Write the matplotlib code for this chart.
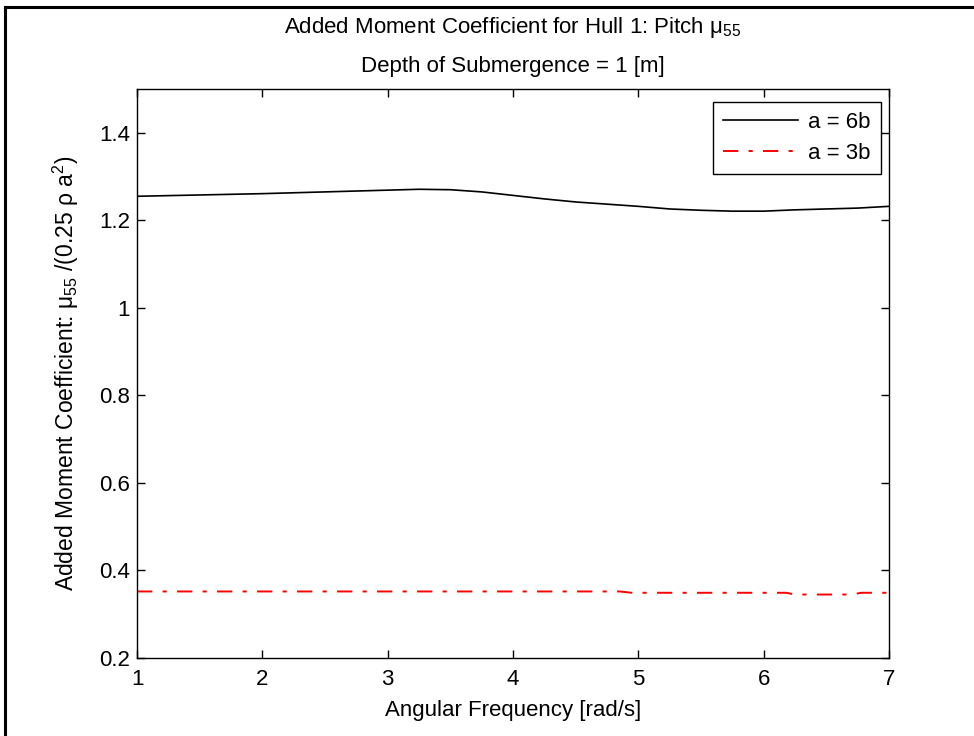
import matplotlib
matplotlib.use('Agg')
import matplotlib.pyplot as plt
from matplotlib.lines import Line2D

plt.rcParams['font.family'] = ['Liberation Sans', 'DejaVu Sans']
plt.rcParams['mathtext.fontset'] = 'custom'
plt.rcParams['mathtext.rm'] = 'Liberation Sans'
plt.rcParams['mathtext.it'] = 'Liberation Sans:italic'
plt.rcParams['mathtext.default'] = 'regular'
plt.rcParams['lines.scale_dashes'] = False

# frecuencia angular [rad/s] y coeficientes de momento agregado
w_6b = [1.0, 1.5, 2.0, 2.5, 3.0, 3.25, 3.5, 3.75, 4.0, 4.25, 4.5, 4.75,
        5.0, 5.25, 5.5, 5.75, 6.0, 6.25, 6.5, 6.75, 7.0]
mu_6b = [1.255, 1.258, 1.261, 1.265, 1.269, 1.271, 1.270, 1.265, 1.257, 1.249,
         1.242, 1.237, 1.232, 1.226, 1.223, 1.221, 1.221, 1.224, 1.226, 1.228, 1.232]

w_3b = [1.0, 2.0, 3.0, 4.0, 4.85, 4.95, 6.0, 6.18, 6.25, 6.7, 6.78, 7.0]
mu_3b = [0.352, 0.352, 0.352, 0.352, 0.352, 0.349, 0.349, 0.349, 0.345, 0.345, 0.349, 0.349]

labels = ['a = 6b', 'a = 3b']
xticks = [1, 2, 3, 4, 5, 6, 7]
yticks = [0.2, 0.4, 0.6, 0.8, 1.0, 1.2, 1.4]
yticklabels = ['0.2', '0.4', '0.6', '0.8', '1', '1.2', '1.4']

fig = plt.figure(figsize=(9.74, 7.36), dpi=100)
ax = fig.add_axes([0.1407, 0.106, 0.772, 0.773])

ax.plot(w_6b, mu_6b, color='black', lw=1.2, label=labels[0])
ax.plot(w_3b, mu_3b, color='red', lw=1.4, dashes=(11, 7.4, 3, 7.4), label=labels[1])

ax.set_xlim(1, 7)
ax.set_ylim(0.2, 1.5)
ax.set_xticks(xticks)
ax.set_xticklabels([str(t) for t in xticks])
ax.set_yticks(yticks)
ax.set_yticklabels(yticklabels)
ax.tick_params(direction='in', length=5.5, width=1, top=True, right=True,
               labelsize=16, colors='black')
ax.tick_params(axis='x', pad=8)
ax.tick_params(axis='y', pad=5)
for s in ax.spines.values():
    s.set_linewidth(1)

ax.set_xlabel('Angular Frequency [rad/s]', fontsize=16, labelpad=7)
ax.set_ylabel(r'Added Moment Coefficient: $\mu_{55}$ /(0.25 $\rho$ a$^2$)', fontsize=16.5, labelpad=13)

# titulo en dos lineas
ax.text(0.5, 1.098, r'Added Moment Coefficient for Hull 1: Pitch $\mu_{55}$',
        transform=ax.transAxes, ha='center', va='baseline', fontsize=16)
ax.text(0.5, 1.030, 'Depth of Submergence = 1 [m]',
        transform=ax.transAxes, ha='center', va='baseline', fontsize=16)

leg = ax.legend(loc='upper right', bbox_to_anchor=(0.9894, 0.9777), borderaxespad=0,
                fontsize=16, fancybox=False, framealpha=1, edgecolor='black',
                handlelength=3.4, handletextpad=0.45, labelspacing=0.45, borderpad=0.45)
leg.get_frame().set_linewidth(1)

# marco de la captura
fig.add_artist(Line2D([5 / 974, 1], [1 - 7 / 736, 1 - 7 / 736], color='black', lw=2.2,
                      transform=fig.transFigure))
fig.add_artist(Line2D([5 / 974, 5 / 974], [0, 1 - 7 / 736], color='black', lw=2.2,
                      transform=fig.transFigure))

plt.savefig('out.png', dpi=100)
